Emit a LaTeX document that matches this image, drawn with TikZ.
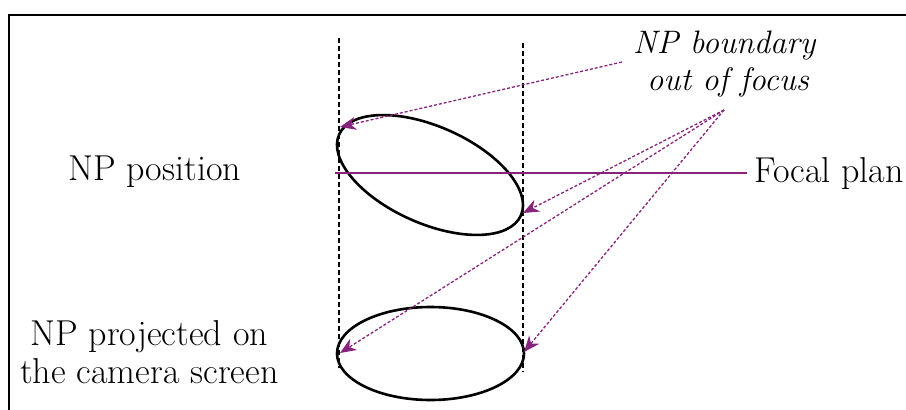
\documentclass[tikz,border=0pt]{standalone}
\usepackage{fontspec}
\setmainfont{Latin Modern Roman}
\usetikzlibrary{arrows.meta}
\definecolor{npurple}{RGB}{135,35,125}
\begin{document}
\begin{tikzpicture}[x=1pt,y=-1pt,
  lbl/.style={font=\fontsize{36}{40}\selectfont, anchor=base west, inner sep=0pt},
  ilbl/.style={font=\fontsize{32.5}{37}\selectfont\itshape, anchor=base west, inner sep=0pt},
  guide/.style={line width=1.1pt, dash pattern=on 5pt off 3pt},
  rim/.style={line width=2.6pt},
  pointer/.style={npurple, line width=1.3pt, dash pattern=on 3pt off 2pt, -{Stealth[length=16pt,width=13pt,inset=5pt]}},
  focal/.style={npurple, line width=1.3pt}
]
\useasboundingbox (0,0) rectangle (906,410);
% frame
\draw[line width=2.2pt] (9,430) -- (9,15) -- (930,15);
% guides
\draw[guide] (339,38) -- (339,368);
\draw[guide] (523,43) -- (523,372);
% ellipses
\draw[rim, rotate around={-24:(430,175)}] (430,175) ellipse [x radius=99.5pt, y radius=48.4pt];
\draw[rim] (430.5,353.5) ellipse [x radius=93.5pt, y radius=46.5pt];
% labels
\node[lbl] (pos) at (68,180) {NP position};
\node[lbl] (proj1) at (30,345) {NP projected on};
\node[lbl] (proj2) at (20,383) {the camera screen};
\node[lbl] (focal) at (754,182) {Focal plan};
\node[ilbl] (bnd1) at (633,53) {NP boundary};
\node[ilbl] (bnd2) at (647,90) {out of focus};
% coordinates
\coordinate (fl) at (335,173);
\coordinate (fr) at (747,173);
\coordinate (s1) at (622,62);
\coordinate (s2) at (724,110);
\coordinate (t1) at (340,127);
\coordinate (t2) at (523,213);
\coordinate (t3) at (340,353);
\coordinate (t4) at (524,352);
% focal plane
\draw[focal] (fl) -- (fr);
% pointers
\draw[pointer] (s1) -- (t1);
\draw[pointer] (s2) -- (t2);
\draw[pointer] (s2) -- (t3);
\draw[pointer] (s2) -- (t4);
\end{tikzpicture}
\end{document}
